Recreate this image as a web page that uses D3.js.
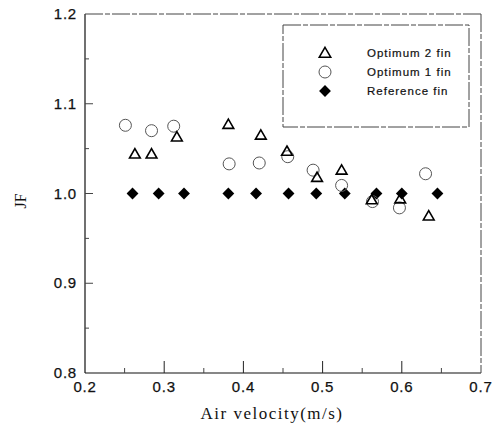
<!DOCTYPE html>
<html>
<head>
  <meta charset="utf-8">
  <title>JF vs air velocity</title>
  <style>
    body { margin: 0; background: #fff; }
    svg { display: block; }
    .tick-label { font-family: "Liberation Sans", Arial, sans-serif; font-size: 15px; letter-spacing: 0.8px; fill: #111; stroke: #111; stroke-width: 0.25px; }
    .axis-title { font-family: "Liberation Serif", "Times New Roman", serif; fill: #111; }
    .legend-text { font-family: "Liberation Sans", Arial, sans-serif; font-size: 11.5px; letter-spacing: 1px; fill: #111; stroke: #111; stroke-width: 0.2px; }
  </style>
</head>
<body>
  <div id="chart"></div>

  <script src="https://d3js.org/d3.v7.min.js"></script>
  <script>
    // values
    const opt2X = [0.263, 0.284, 0.316, 0.381, 0.422, 0.455, 0.493, 0.524, 0.562, 0.598, 0.634];
    const opt2Y = [1.043, 1.043, 1.062, 1.076, 1.064, 1.046, 1.017, 1.025, 0.992, 0.993, 0.974];

    const opt1X = [0.251, 0.284, 0.312, 0.382, 0.420, 0.456, 0.488, 0.524, 0.563, 0.597, 0.630];
    const opt1Y = [1.076, 1.070, 1.075, 1.033, 1.034, 1.041, 1.026, 1.009, 0.991, 0.984, 1.022];

    const refX = [0.260, 0.293, 0.325, 0.381, 0.416, 0.457, 0.492, 0.528, 0.568, 0.600, 0.645];
    const refY = [1.0, 1.0, 1.0, 1.0, 1.0, 1.0, 1.0, 1.0, 1.0, 1.0, 1.0];

    const xTicks = [0.2, 0.3, 0.4, 0.5, 0.6, 0.7];
    const yTicks = [0.8, 0.9, 1.0, 1.1, 1.2];
    const xMinor = [0.25, 0.35, 0.45, 0.55, 0.65];
    const yMinor = [0.85, 0.95, 1.05, 1.15];

    const legendNames = ["Optimum 2 fin", "Optimum 1 fin", "Reference fin"];

    const W = 501, H = 427;
    const margin = { top: 14, right: 20, bottom: 54, left: 85 };
    const width = W - margin.left - margin.right;
    const height = H - margin.top - margin.bottom;

    const svg = d3.select("#chart").append("svg")
      .attr("width", W)
      .attr("height", H);

    const g = svg.append("g")
      .attr("transform", `translate(${margin.left},${margin.top})`);

    const x = d3.scaleLinear().domain([0.2, 0.7]).range([0, width]);
    const y = d3.scaleLinear().domain([0.8, 1.2]).range([height, 0]);

    // frame: solid left/bottom, broken-looking top/right like the scan
    g.append("line").attr("x1", 0).attr("x2", 0).attr("y1", 0).attr("y2", height)
      .attr("stroke", "#111").attr("stroke-width", 1.2);
    g.append("line").attr("x1", 0).attr("x2", width).attr("y1", height).attr("y2", height)
      .attr("stroke", "#111").attr("stroke-width", 1.2);
    g.append("line").attr("x1", 0).attr("x2", width).attr("y1", 0).attr("y2", 0)
      .attr("stroke", "#444").attr("stroke-width", 1).attr("stroke-dasharray", "18 2 5 2");
    g.append("line").attr("x1", width).attr("x2", width).attr("y1", 0).attr("y2", height)
      .attr("stroke", "#444").attr("stroke-width", 1).attr("stroke-dasharray", "18 2 5 2");

    // x ticks (inward)
    g.selectAll(".xmaj").data(xTicks.slice(1, -1)).join("line")
      .attr("x1", d => x(d)).attr("x2", d => x(d))
      .attr("y1", height).attr("y2", height - 12)
      .attr("stroke", "#222").attr("stroke-width", 1);
    g.selectAll(".xmin").data(xMinor).join("line")
      .attr("x1", d => x(d)).attr("x2", d => x(d))
      .attr("y1", height).attr("y2", height - 5)
      .attr("stroke", "#444").attr("stroke-width", 1);

    // y ticks (inward)
    g.selectAll(".ymaj").data(yTicks.slice(1, -1)).join("line")
      .attr("x1", 0).attr("x2", 8)
      .attr("y1", d => y(d)).attr("y2", d => y(d))
      .attr("stroke", "#444").attr("stroke-width", 1);
    g.selectAll(".ymin").data(yMinor).join("line")
      .attr("x1", 0).attr("x2", 4)
      .attr("y1", d => y(d)).attr("y2", d => y(d))
      .attr("stroke", "#444").attr("stroke-width", 1);

    // tick labels
    g.selectAll(".xl").data(xTicks).join("text")
      .attr("class", "tick-label")
      .attr("x", d => x(d))
      .attr("y", height + 19)
      .attr("text-anchor", "middle")
      .text(d => d3.format(".1f")(d));

    g.selectAll(".yl").data(yTicks).join("text")
      .attr("class", "tick-label")
      .attr("x", -8)
      .attr("y", d => y(d) + 5)
      .attr("text-anchor", "end")
      .text(d => d3.format(".1f")(d));

    // axis titles
    g.append("text")
      .attr("class", "axis-title")
      .attr("x", 187)
      .attr("y", height + 46)
      .attr("text-anchor", "middle")
      .style("font-size", "17px")
      .style("letter-spacing", "1.5px")
      .text("Air velocity(m/s)");

    svg.append("text")
      .attr("class", "axis-title")
      .attr("transform", "translate(26,201) rotate(-90)")
      .attr("text-anchor", "middle")
      .style("font-size", "16px")
      .text("JF");

    // markers
    const tri = d3.symbol().type(d3.symbolTriangle).size(50);
    const dia = d3.symbol().type(d3.symbolSquare).size(70);

    g.selectAll(".ref").data(refX.map((v, i) => [v, refY[i]])).join("path")
      .attr("d", dia)
      .attr("transform", d => `translate(${x(d[0])},${y(d[1])}) rotate(45)`)
      .attr("fill", "#000");

    g.selectAll(".o1").data(opt1X.map((v, i) => [v, opt1Y[i]])).join("circle")
      .attr("cx", d => x(d[0]))
      .attr("cy", d => y(d[1]))
      .attr("r", 6)
      .attr("fill", "none")
      .attr("stroke", "#555")
      .attr("stroke-width", 1);

    g.selectAll(".o2").data(opt2X.map((v, i) => [v, opt2Y[i]])).join("path")
      .attr("d", tri)
      .attr("transform", d => `translate(${x(d[0])},${y(d[1])})`)
      .attr("fill", "none")
      .attr("stroke", "#000")
      .attr("stroke-width", 1.6);

    // legend
    const lg = svg.append("g");
    lg.append("rect")
      .attr("x", 283).attr("y", 25)
      .attr("width", 186).attr("height", 102)
      .attr("fill", "#fff")
      .attr("stroke", "#444").attr("stroke-width", 1)
      .attr("stroke-dasharray", "18 2 5 2");

    const rowY = [53, 72, 91];
    lg.append("path").attr("d", d3.symbol().type(d3.symbolTriangle).size(58))
      .attr("transform", `translate(325,${rowY[0] + 1})`)
      .attr("fill", "none").attr("stroke", "#000").attr("stroke-width", 1.5);
    lg.append("circle").attr("cx", 325).attr("cy", rowY[1]).attr("r", 6)
      .attr("fill", "none").attr("stroke", "#555").attr("stroke-width", 1);
    lg.append("path").attr("d", dia)
      .attr("transform", `translate(325,${rowY[2]}) rotate(45)`)
      .attr("fill", "#000");

    lg.selectAll(".lt").data(legendNames).join("text")
      .attr("class", "legend-text")
      .attr("x", 367)
      .attr("y", (d, i) => rowY[i] + 4)
      .text(d => d);
  </script>
</body>
</html>
